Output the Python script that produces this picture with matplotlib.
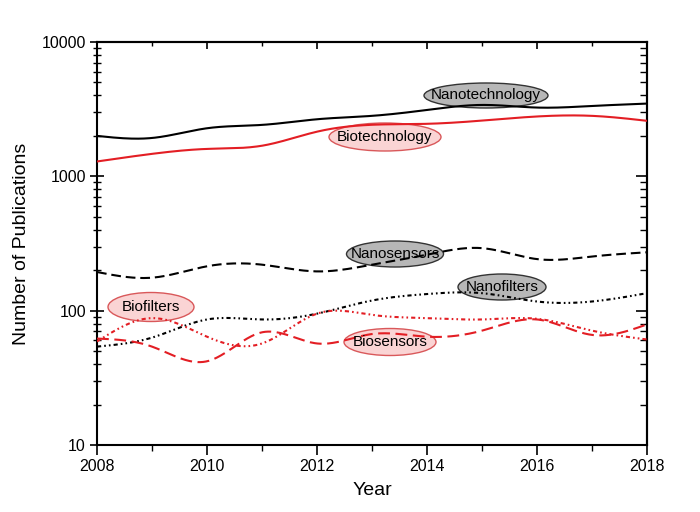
import numpy as np
import matplotlib
matplotlib.use("Agg")
import matplotlib.pyplot as plt
from matplotlib.patches import Ellipse
from matplotlib.ticker import FixedLocator, NullFormatter, LogLocator

plt.rcParams['font.family'] = ['Liberation Sans', 'DejaVu Sans']
plt.rcParams['lines.scale_dashes'] = False

years = [2008, 2009, 2010, 2011, 2012, 2013, 2014, 2015, 2016, 2017, 2018]
nanotechnology = [2000, 1930, 2280, 2415, 2660, 2820, 3120, 3400, 3250, 3340, 3480]
biotechnology = [1290, 1470, 1600, 1690, 2150, 2420, 2460, 2600, 2790, 2820, 2590]
nanosensors = [194, 176, 214, 220, 196, 220, 261, 292, 242, 253, 272]
nanofilters = [54, 63, 86, 86, 95, 119, 133, 135, 117, 117, 135]
biofilters = [59, 88, 64, 57, 95, 93, 88, 86, 87, 71, 61]
biosensors = [62, 54, 42, 69, 57, 67, 64, 71, 86, 66, 79]

labels = ["Nanotechnology", "Biotechnology", "Nanosensors", "Nanofilters", "Biofilters", "Biosensors"]

RED = '#e31e24'


def smooth(x, y, n=400):
    # natural cubic spline through the yearly points (on log values), for drawing only
    x = np.asarray(x, float)
    y = np.log10(np.asarray(y, float))
    k = len(x)
    h = np.diff(x)
    A = np.zeros((k, k))
    b = np.zeros(k)
    A[0, 0] = A[-1, -1] = 1
    for i in range(1, k - 1):
        A[i, i - 1] = h[i - 1]
        A[i, i] = 2 * (h[i - 1] + h[i])
        A[i, i + 1] = h[i]
        b[i] = 3 * ((y[i + 1] - y[i]) / h[i] - (y[i] - y[i - 1]) / h[i - 1])
    c = np.linalg.solve(A, b)
    xs = np.linspace(x[0], x[-1], n)
    idx = np.clip(np.searchsorted(x, xs) - 1, 0, k - 2)
    dx = xs - x[idx]
    bb = (y[idx + 1] - y[idx]) / h[idx] - h[idx] * (2 * c[idx] + c[idx + 1]) / 3
    dd = (c[idx + 1] - c[idx]) / (3 * h[idx])
    ys = y[idx] + bb * dx + c[idx] * dx ** 2 + dd * dx ** 3
    return xs, 10 ** ys


fig = plt.figure(figsize=(7.0, 5.12), dpi=100)
ax = fig.add_axes([97 / 700, 1 - 445 / 512, 550 / 700, 403 / 512])

dd2 = (3.0, 2.2, 1.2, 2.2, 1.2, 2.2)
series = [
    (nanotechnology, 'black', '-', None),
    (biotechnology, RED, '-', None),
    (nanosensors, 'black', '--', (7.0, 3.5)),
    (nanofilters, 'black', '-', dd2),
    (biofilters, RED, '-', dd2),
    (biosensors, RED, '--', (8.5, 4.0)),
]
for vals, col, ls, dash in series:
    xs, ys = smooth(years, vals)
    line, = ax.plot(xs, ys, color=col, lw=1.5, ls=ls, zorder=3)
    if dash is not None:
        line.set_dashes(dash)

ax.set_yscale('log')
ax.set_xlim(2008, 2018)
ax.set_ylim(10, 10000)

ax.set_xticks([2008, 2010, 2012, 2014, 2016, 2018])
ax.set_xticks(years, minor=True)
ax.set_xticklabels(['2008', '2010', '2012', '2014', '2016', '2018'])
ax.yaxis.set_major_locator(FixedLocator([10, 100, 1000, 10000]))
ax.set_yticklabels(['10', '100', '1000', '10000'])
ax.yaxis.set_minor_locator(LogLocator(base=10, subs=np.arange(2, 10)))
ax.yaxis.set_minor_formatter(NullFormatter())

ax.tick_params(axis='x', which='major', direction='out', length=7, width=1.2, labelsize=11.5, pad=3)
ax.tick_params(axis='x', which='minor', direction='out', length=4, width=1.0)
ax.tick_params(axis='y', which='major', direction='inout', length=10, width=1.2, labelsize=11.5, pad=3)
ax.tick_params(axis='y', which='minor', direction='inout', length=6, width=1.0)
for s in ax.spines.values():
    s.set_linewidth(1.5)

secx = ax.secondary_xaxis('top')
secx.set_xticks([2008, 2010, 2012, 2014, 2016, 2018])
secx.set_xticks(years, minor=True)
secx.tick_params(which='major', direction='in', length=5, width=1.2, labeltop=False)
secx.tick_params(which='minor', direction='in', length=3, width=1.0)
secx.spines['top'].set_linewidth(1.5)

secy = ax.secondary_yaxis('right')
secy.set_yscale('log')
secy.yaxis.set_major_locator(FixedLocator([10, 100, 1000, 10000]))
secy.yaxis.set_minor_locator(LogLocator(base=10, subs=np.arange(2, 10)))
secy.yaxis.set_minor_formatter(NullFormatter())
secy.tick_params(which='major', direction='in', length=8, width=1.2, labelright=False)
secy.tick_params(which='minor', direction='in', length=5, width=1.0)
secy.spines['right'].set_linewidth(1.5)

ax.set_xlabel('Year', fontsize=14, labelpad=6)
ax.set_ylabel('Number of Publications', fontsize=14, labelpad=8)

# label ellipses (pixel geometry of the reference, converted to axes fraction)
boxes = [
    (486, 95.5, 124, 25, 'gray'),
    (385, 137, 112, 28, 'pink'),
    (395, 254, 97, 26, 'gray'),
    (502, 287, 88, 26, 'gray'),
    (151, 307, 86, 29, 'pink'),
    (390, 342, 92, 27, 'pink'),
]
for lab, (px, py, w, h, kind) in zip(labels, boxes):
    cx = (px - 97) / 550
    cy = (445 - py) / 403
    if kind == 'gray':
        fc, ec = '#b7b7b7', '#333333'
    else:
        fc, ec = '#fad4d4', '#d9585a'
    e = Ellipse((cx, cy), w / 550, h / 403, transform=ax.transAxes,
                facecolor=fc, edgecolor=ec, lw=1.0, zorder=2)
    ax.add_patch(e)
    ax.text(cx, cy, lab, transform=ax.transAxes, ha='center', va='center',
            fontsize=11, color='black', zorder=4)

fig.savefig('out.png', dpi=100)
